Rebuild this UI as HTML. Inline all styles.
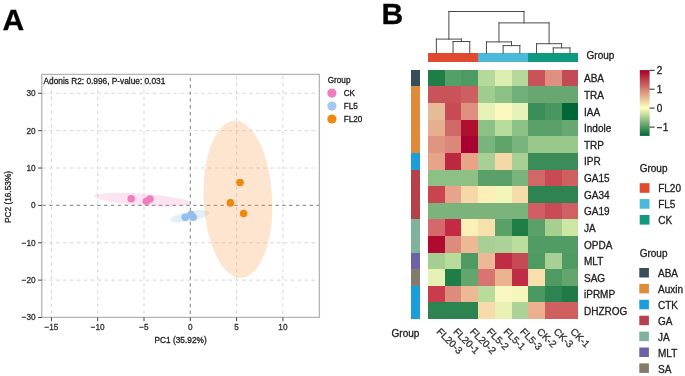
<!DOCTYPE html>
<html><head><meta charset="utf-8"><title>PCoA and heatmap</title>
<style>html,body{margin:0;padding:0;background:#fff;width:685px;height:376px;overflow:hidden;font-family:"Liberation Sans", sans-serif}
svg{display:block;font-family:"Liberation Sans", sans-serif;filter:blur(0.35px)}</style>
</head><body>
<svg width="685" height="376" viewBox="0 0 685 376" ><text x="2.6" y="30.4" font-size="30" font-weight="bold" fill="#000" stroke="#000" stroke-width="0.3">A</text>
<text x="381.6" y="24.4" font-size="30" font-weight="bold" fill="#000" stroke="#000" stroke-width="0.3">B</text>
<g stroke="#d2d2d2" stroke-width="0.9" stroke-dasharray="3.45 3.45"><line x1="51.40" y1="317.4" x2="51.40" y2="74.4" stroke-dashoffset="3.45"/><line x1="97.70" y1="317.4" x2="97.70" y2="74.4" stroke-dashoffset="3.45"/><line x1="144.00" y1="317.4" x2="144.00" y2="74.4" stroke-dashoffset="3.45"/><line x1="236.60" y1="317.4" x2="236.60" y2="74.4" stroke-dashoffset="3.45"/><line x1="282.90" y1="317.4" x2="282.90" y2="74.4" stroke-dashoffset="3.45"/><line x1="41.8" y1="93.29" x2="319.4" y2="93.29" stroke-dashoffset="-0.6"/><line x1="41.8" y1="130.66" x2="319.4" y2="130.66" stroke-dashoffset="-0.6"/><line x1="41.8" y1="168.03" x2="319.4" y2="168.03" stroke-dashoffset="-0.6"/><line x1="41.8" y1="242.77" x2="319.4" y2="242.77" stroke-dashoffset="-0.6"/><line x1="41.8" y1="280.14" x2="319.4" y2="280.14" stroke-dashoffset="-0.6"/></g>
<g stroke="#959595" stroke-width="1.2" stroke-dasharray="3.4 3.45"><line x1="190.30" y1="317.4" x2="190.30" y2="74.4" stroke-dashoffset="3.45"/><line x1="41.8" y1="205.40" x2="319.4" y2="205.40" stroke-dashoffset="-0.6"/></g>
<ellipse cx="142" cy="199.6" rx="48.4" ry="5.9" transform="rotate(4.15 142 199.6)" fill="#f07fbf" fill-opacity="0.22"/>
<ellipse cx="189.8" cy="216.2" rx="19.8" ry="4.9" transform="rotate(-11 189.8 216.2)" fill="#90bde9" fill-opacity="0.25"/>
<ellipse cx="237.9" cy="199.3" rx="34.3" ry="78.6" transform="rotate(-2.6 237.9 199.3)" fill="#f7a050" fill-opacity="0.27"/>
<circle cx="131.2" cy="198.7" r="3.8" fill="#ef7dbd"/>
<circle cx="146.4" cy="201.2" r="3.8" fill="#ef7dbd"/>
<circle cx="149.9" cy="199" r="3.8" fill="#ef7dbd"/>
<circle cx="185.3" cy="217.3" r="3.8" fill="#92bfea"/>
<circle cx="191" cy="214.6" r="3.8" fill="#92bfea"/>
<circle cx="193.2" cy="217.3" r="3.8" fill="#92bfea"/>
<circle cx="240" cy="182.5" r="3.8" fill="#ef880c"/>
<circle cx="230.4" cy="202.9" r="3.8" fill="#ef880c"/>
<circle cx="243.6" cy="213.6" r="3.8" fill="#ef880c"/>
<rect x="41.8" y="74.4" width="277.60" height="243.00" fill="none" stroke="#b4b4b4" stroke-width="1.3"/>
<g stroke="#444" stroke-width="1"><line x1="51.40" y1="317.4" x2="51.40" y2="321.2" /><line x1="97.70" y1="317.4" x2="97.70" y2="321.2" /><line x1="144.00" y1="317.4" x2="144.00" y2="321.2" /><line x1="190.30" y1="317.4" x2="190.30" y2="321.2" /><line x1="236.60" y1="317.4" x2="236.60" y2="321.2" /><line x1="282.90" y1="317.4" x2="282.90" y2="321.2" /><line x1="38.199999999999996" y1="93.29" x2="41.8" y2="93.29" /><line x1="38.199999999999996" y1="130.66" x2="41.8" y2="130.66" /><line x1="38.199999999999996" y1="168.03" x2="41.8" y2="168.03" /><line x1="38.199999999999996" y1="205.40" x2="41.8" y2="205.40" /><line x1="38.199999999999996" y1="242.77" x2="41.8" y2="242.77" /><line x1="38.199999999999996" y1="280.14" x2="41.8" y2="280.14" /><line x1="38.199999999999996" y1="317.51" x2="41.8" y2="317.51" /></g>
<text x="51.40" y="330.1" font-size="8.2" fill="#333" stroke="#333" stroke-width="0.3" text-anchor="middle">−15</text>
<text x="97.70" y="330.1" font-size="8.2" fill="#333" stroke="#333" stroke-width="0.3" text-anchor="middle">−10</text>
<text x="144.00" y="330.1" font-size="8.2" fill="#333" stroke="#333" stroke-width="0.3" text-anchor="middle">−5</text>
<text x="190.30" y="330.1" font-size="8.2" fill="#333" stroke="#333" stroke-width="0.3" text-anchor="middle">0</text>
<text x="236.60" y="330.1" font-size="8.2" fill="#333" stroke="#333" stroke-width="0.3" text-anchor="middle">5</text>
<text x="282.90" y="330.1" font-size="8.2" fill="#333" stroke="#333" stroke-width="0.3" text-anchor="middle">10</text>
<text x="35.6" y="96.24" font-size="8.2" fill="#333" stroke="#333" stroke-width="0.3" text-anchor="end">30</text>
<text x="35.6" y="133.61" font-size="8.2" fill="#333" stroke="#333" stroke-width="0.3" text-anchor="end">20</text>
<text x="35.6" y="170.98" font-size="8.2" fill="#333" stroke="#333" stroke-width="0.3" text-anchor="end">10</text>
<text x="35.6" y="208.35" font-size="8.2" fill="#333" stroke="#333" stroke-width="0.3" text-anchor="end">0</text>
<text x="35.6" y="245.72" font-size="8.2" fill="#333" stroke="#333" stroke-width="0.3" text-anchor="end">−10</text>
<text x="35.6" y="283.09" font-size="8.2" fill="#333" stroke="#333" stroke-width="0.3" text-anchor="end">−20</text>
<text x="35.6" y="320.46" font-size="8.2" fill="#333" stroke="#333" stroke-width="0.3" text-anchor="end">−30</text>
<text x="180.6" y="343" font-size="8.3" fill="#222" stroke="#222" stroke-width="0.3" text-anchor="middle">PC1 (35.92%)</text>
<text x="0" y="0" font-size="8.3" fill="#222" stroke="#222" stroke-width="0.3" text-anchor="middle" transform="translate(11.2 197) rotate(-90)">PC2 (16.53%)</text>
<text x="43.5" y="83.7" font-size="8.3" fill="#222" stroke="#222" stroke-width="0.3">Adonis R2: 0.996, P-value: 0.031</text>
<text x="327.7" y="82.9" font-size="8.2" fill="#222" stroke="#222" stroke-width="0.3">Group</text>
<circle cx="331.9" cy="93.10" r="4.6" fill="#ef7dbd"/>
<text x="343.7" y="96.30" font-size="8.2" fill="#222" stroke="#222" stroke-width="0.3">CK</text>
<circle cx="331.9" cy="106.05" r="4.6" fill="#a3c9ee"/>
<text x="343.7" y="109.25" font-size="8.2" fill="#222" stroke="#222" stroke-width="0.3">FL5</text>
<circle cx="331.9" cy="119.00" r="4.6" fill="#ef880c"/>
<text x="343.7" y="122.20" font-size="8.2" fill="#222" stroke="#222" stroke-width="0.3">FL20</text>
<g shape-rendering="crispEdges"><rect x="428.00" y="69.80" width="16.72" height="16.64" fill="#1f7d48"/><rect x="444.70" y="69.80" width="16.72" height="16.64" fill="#55a068"/><rect x="461.40" y="69.80" width="16.72" height="16.64" fill="#4d9a62"/><rect x="478.10" y="69.80" width="16.72" height="16.64" fill="#b5d99a"/><rect x="494.80" y="69.80" width="16.72" height="16.64" fill="#dcedb0"/><rect x="511.50" y="69.80" width="16.72" height="16.64" fill="#b5d99a"/><rect x="528.20" y="69.80" width="16.72" height="16.64" fill="#c85358"/><rect x="544.90" y="69.80" width="16.72" height="16.64" fill="#e09080"/><rect x="561.60" y="69.80" width="16.72" height="16.64" fill="#c44a55"/><rect x="428.00" y="86.42" width="16.72" height="16.64" fill="#c85358"/><rect x="444.70" y="86.42" width="16.72" height="16.64" fill="#c85358"/><rect x="461.40" y="86.42" width="16.72" height="16.64" fill="#cc6060"/><rect x="478.10" y="86.42" width="16.72" height="16.64" fill="#a0cc90"/><rect x="494.80" y="86.42" width="16.72" height="16.64" fill="#8cc084"/><rect x="511.50" y="86.42" width="16.72" height="16.64" fill="#70b078"/><rect x="528.20" y="86.42" width="16.72" height="16.64" fill="#68a870"/><rect x="544.90" y="86.42" width="16.72" height="16.64" fill="#68a870"/><rect x="561.60" y="86.42" width="16.72" height="16.64" fill="#68a870"/><rect x="428.00" y="103.04" width="16.72" height="16.64" fill="#e6bc98"/><rect x="444.70" y="103.04" width="16.72" height="16.64" fill="#c84a55"/><rect x="461.40" y="103.04" width="16.72" height="16.64" fill="#e09080"/><rect x="478.10" y="103.04" width="16.72" height="16.64" fill="#e6f2b8"/><rect x="494.80" y="103.04" width="16.72" height="16.64" fill="#fcf8c0"/><rect x="511.50" y="103.04" width="16.72" height="16.64" fill="#e6f2b8"/><rect x="528.20" y="103.04" width="16.72" height="16.64" fill="#3a8c58"/><rect x="544.90" y="103.04" width="16.72" height="16.64" fill="#4a9660"/><rect x="561.60" y="103.04" width="16.72" height="16.64" fill="#006837"/><rect x="428.00" y="119.66" width="16.72" height="16.64" fill="#e6b090"/><rect x="444.70" y="119.66" width="16.72" height="16.64" fill="#d06a68"/><rect x="461.40" y="119.66" width="16.72" height="16.64" fill="#b01030"/><rect x="478.10" y="119.66" width="16.72" height="16.64" fill="#8cc084"/><rect x="494.80" y="119.66" width="16.72" height="16.64" fill="#b8dc9c"/><rect x="511.50" y="119.66" width="16.72" height="16.64" fill="#8cc084"/><rect x="528.20" y="119.66" width="16.72" height="16.64" fill="#5aa068"/><rect x="544.90" y="119.66" width="16.72" height="16.64" fill="#5aa068"/><rect x="561.60" y="119.66" width="16.72" height="16.64" fill="#68a870"/><rect x="428.00" y="136.28" width="16.72" height="16.64" fill="#e09580"/><rect x="444.70" y="136.28" width="16.72" height="16.64" fill="#dc8878"/><rect x="461.40" y="136.28" width="16.72" height="16.64" fill="#a80030"/><rect x="478.10" y="136.28" width="16.72" height="16.64" fill="#78b47c"/><rect x="494.80" y="136.28" width="16.72" height="16.64" fill="#60a46c"/><rect x="511.50" y="136.28" width="16.72" height="16.64" fill="#78b47c"/><rect x="528.20" y="136.28" width="16.72" height="16.64" fill="#98c88a"/><rect x="544.90" y="136.28" width="16.72" height="16.64" fill="#98c88a"/><rect x="561.60" y="136.28" width="16.72" height="16.64" fill="#98c88a"/><rect x="428.00" y="152.90" width="16.72" height="16.64" fill="#e8a488"/><rect x="444.70" y="152.90" width="16.72" height="16.64" fill="#bc2840"/><rect x="461.40" y="152.90" width="16.72" height="16.64" fill="#e8a488"/><rect x="478.10" y="152.90" width="16.72" height="16.64" fill="#a8d094"/><rect x="494.80" y="152.90" width="16.72" height="16.64" fill="#f5d8a8"/><rect x="511.50" y="152.90" width="16.72" height="16.64" fill="#a8d094"/><rect x="528.20" y="152.90" width="16.72" height="16.64" fill="#3a8c58"/><rect x="544.90" y="152.90" width="16.72" height="16.64" fill="#3a8c58"/><rect x="561.60" y="152.90" width="16.72" height="16.64" fill="#3a8c58"/><rect x="428.00" y="169.52" width="16.72" height="16.64" fill="#8cc084"/><rect x="444.70" y="169.52" width="16.72" height="16.64" fill="#8cc084"/><rect x="461.40" y="169.52" width="16.72" height="16.64" fill="#8cc084"/><rect x="478.10" y="169.52" width="16.72" height="16.64" fill="#5aa068"/><rect x="494.80" y="169.52" width="16.72" height="16.64" fill="#5aa068"/><rect x="511.50" y="169.52" width="16.72" height="16.64" fill="#7ab47c"/><rect x="528.20" y="169.52" width="16.72" height="16.64" fill="#d06868"/><rect x="544.90" y="169.52" width="16.72" height="16.64" fill="#c84a55"/><rect x="561.60" y="169.52" width="16.72" height="16.64" fill="#d06060"/><rect x="428.00" y="186.14" width="16.72" height="16.64" fill="#c8444f"/><rect x="444.70" y="186.14" width="16.72" height="16.64" fill="#e8a48a"/><rect x="461.40" y="186.14" width="16.72" height="16.64" fill="#f6d8a8"/><rect x="478.10" y="186.14" width="16.72" height="16.64" fill="#fcf0b8"/><rect x="494.80" y="186.14" width="16.72" height="16.64" fill="#f2f6b8"/><rect x="511.50" y="186.14" width="16.72" height="16.64" fill="#f6dca8"/><rect x="528.20" y="186.14" width="16.72" height="16.64" fill="#2e8450"/><rect x="544.90" y="186.14" width="16.72" height="16.64" fill="#2e8450"/><rect x="561.60" y="186.14" width="16.72" height="16.64" fill="#2e8450"/><rect x="428.00" y="202.76" width="16.72" height="16.64" fill="#7ab47c"/><rect x="444.70" y="202.76" width="16.72" height="16.64" fill="#7ab47c"/><rect x="461.40" y="202.76" width="16.72" height="16.64" fill="#7ab47c"/><rect x="478.10" y="202.76" width="16.72" height="16.64" fill="#7ab47c"/><rect x="494.80" y="202.76" width="16.72" height="16.64" fill="#7ab47c"/><rect x="511.50" y="202.76" width="16.72" height="16.64" fill="#7ab47c"/><rect x="528.20" y="202.76" width="16.72" height="16.64" fill="#d05e62"/><rect x="544.90" y="202.76" width="16.72" height="16.64" fill="#c84c56"/><rect x="561.60" y="202.76" width="16.72" height="16.64" fill="#d06062"/><rect x="428.00" y="219.38" width="16.72" height="16.64" fill="#d4686a"/><rect x="444.70" y="219.38" width="16.72" height="16.64" fill="#c42a44"/><rect x="461.40" y="219.38" width="16.72" height="16.64" fill="#fcf0b8"/><rect x="478.10" y="219.38" width="16.72" height="16.64" fill="#f6e0ac"/><rect x="494.80" y="219.38" width="16.72" height="16.64" fill="#5aa068"/><rect x="511.50" y="219.38" width="16.72" height="16.64" fill="#1e7c44"/><rect x="528.20" y="219.38" width="16.72" height="16.64" fill="#5aa068"/><rect x="544.90" y="219.38" width="16.72" height="16.64" fill="#a6cf90"/><rect x="561.60" y="219.38" width="16.72" height="16.64" fill="#cce6a4"/><rect x="428.00" y="236.00" width="16.72" height="16.64" fill="#b00a30"/><rect x="444.70" y="236.00" width="16.72" height="16.64" fill="#dc8c7c"/><rect x="461.40" y="236.00" width="16.72" height="16.64" fill="#ecb896"/><rect x="478.10" y="236.00" width="16.72" height="16.64" fill="#a8d094"/><rect x="494.80" y="236.00" width="16.72" height="16.64" fill="#acd298"/><rect x="511.50" y="236.00" width="16.72" height="16.64" fill="#bcde9c"/><rect x="528.20" y="236.00" width="16.72" height="16.64" fill="#509c64"/><rect x="544.90" y="236.00" width="16.72" height="16.64" fill="#509c64"/><rect x="561.60" y="236.00" width="16.72" height="16.64" fill="#509c64"/><rect x="428.00" y="252.62" width="16.72" height="16.64" fill="#a4ce92"/><rect x="444.70" y="252.62" width="16.72" height="16.64" fill="#b8dc9c"/><rect x="461.40" y="252.62" width="16.72" height="16.64" fill="#4e9a62"/><rect x="478.10" y="252.62" width="16.72" height="16.64" fill="#ecb896"/><rect x="494.80" y="252.62" width="16.72" height="16.64" fill="#c02c44"/><rect x="511.50" y="252.62" width="16.72" height="16.64" fill="#c44a55"/><rect x="528.20" y="252.62" width="16.72" height="16.64" fill="#4e9a62"/><rect x="544.90" y="252.62" width="16.72" height="16.64" fill="#a8d094"/><rect x="561.60" y="252.62" width="16.72" height="16.64" fill="#4e9a62"/><rect x="428.00" y="269.24" width="16.72" height="16.64" fill="#e6f2b4"/><rect x="444.70" y="269.24" width="16.72" height="16.64" fill="#1f7d48"/><rect x="461.40" y="269.24" width="16.72" height="16.64" fill="#62a66e"/><rect x="478.10" y="269.24" width="16.72" height="16.64" fill="#d87470"/><rect x="494.80" y="269.24" width="16.72" height="16.64" fill="#ecb48e"/><rect x="511.50" y="269.24" width="16.72" height="16.64" fill="#c02c44"/><rect x="528.20" y="269.24" width="16.72" height="16.64" fill="#f8e0ac"/><rect x="544.90" y="269.24" width="16.72" height="16.64" fill="#4e9a62"/><rect x="561.60" y="269.24" width="16.72" height="16.64" fill="#62a66e"/><rect x="428.00" y="285.86" width="16.72" height="16.64" fill="#c83c4c"/><rect x="444.70" y="285.86" width="16.72" height="16.64" fill="#dc8c7c"/><rect x="461.40" y="285.86" width="16.72" height="16.64" fill="#ecb896"/><rect x="478.10" y="285.86" width="16.72" height="16.64" fill="#b8dc9c"/><rect x="494.80" y="285.86" width="16.72" height="16.64" fill="#f8f8c0"/><rect x="511.50" y="285.86" width="16.72" height="16.64" fill="#f6f6bc"/><rect x="528.20" y="285.86" width="16.72" height="16.64" fill="#4a9862"/><rect x="544.90" y="285.86" width="16.72" height="16.64" fill="#2e8450"/><rect x="561.60" y="285.86" width="16.72" height="16.64" fill="#1f7a46"/><rect x="428.00" y="302.48" width="16.72" height="16.64" fill="#2e8450"/><rect x="444.70" y="302.48" width="16.72" height="16.64" fill="#2e8450"/><rect x="461.40" y="302.48" width="16.72" height="16.64" fill="#2e8450"/><rect x="478.10" y="302.48" width="16.72" height="16.64" fill="#f6dcaa"/><rect x="494.80" y="302.48" width="16.72" height="16.64" fill="#e8f2b4"/><rect x="511.50" y="302.48" width="16.72" height="16.64" fill="#acd298"/><rect x="528.20" y="302.48" width="16.72" height="16.64" fill="#ecb090"/><rect x="544.90" y="302.48" width="16.72" height="16.64" fill="#d06060"/><rect x="561.60" y="302.48" width="16.72" height="16.64" fill="#d06060"/></g>
<rect x="411.3" y="69.80" width="8.4" height="16.62" fill="#374d58" shape-rendering="crispEdges"/>
<rect x="411.3" y="86.42" width="8.4" height="66.48" fill="#e08b3c" shape-rendering="crispEdges"/>
<rect x="411.3" y="152.90" width="8.4" height="16.62" fill="#1b9ed9" shape-rendering="crispEdges"/>
<rect x="411.3" y="169.52" width="8.4" height="49.86" fill="#b5424a" shape-rendering="crispEdges"/>
<rect x="411.3" y="219.38" width="8.4" height="33.24" fill="#7fb39b" shape-rendering="crispEdges"/>
<rect x="411.3" y="252.62" width="8.4" height="16.62" fill="#6d62a6" shape-rendering="crispEdges"/>
<rect x="411.3" y="269.24" width="8.4" height="16.62" fill="#857b6d" shape-rendering="crispEdges"/>
<rect x="411.3" y="285.86" width="8.4" height="33.24" fill="#1b9ed9" shape-rendering="crispEdges"/>
<rect x="428.00" y="53.3" width="50.10" height="8.2" fill="#e04a30" shape-rendering="crispEdges"/>
<rect x="478.10" y="53.3" width="50.10" height="8.2" fill="#4ab8d8" shape-rendering="crispEdges"/>
<rect x="528.20" y="53.3" width="50.10" height="8.2" fill="#0f9a80" shape-rendering="crispEdges"/>
<path d="M453.05 53.20L453.05 41.50 M469.75 53.20L469.75 41.50 M453.05 41.50L469.75 41.50 M436.35 53.20L436.35 39.10 M461.40 41.50L461.40 39.10 M436.35 39.10L461.40 39.10 M503.15 53.20L503.15 45.60 M519.85 53.20L519.85 45.60 M503.15 45.60L519.85 45.60 M486.45 53.20L486.45 41.90 M511.50 45.60L511.50 41.90 M486.45 41.90L511.50 41.90 M553.25 53.20L553.25 47.90 M569.95 53.20L569.95 47.90 M553.25 47.90L569.95 47.90 M536.55 53.20L536.55 43.70 M561.60 47.90L561.60 43.70 M536.55 43.70L561.60 43.70 M498.98 41.90L498.98 22.90 M549.08 43.70L549.08 22.90 M498.98 22.90L549.08 22.90 M448.88 39.10L448.88 11.50 M524.03 22.90L524.03 11.50 M448.88 11.50L524.03 11.50" stroke="#4a4a4a" stroke-width="1" fill="none" stroke-linecap="square"/>
<text x="584" y="82.31" font-size="10" fill="#222" stroke="#222" stroke-width="0.3">ABA</text>
<text x="584" y="98.93" font-size="10" fill="#222" stroke="#222" stroke-width="0.3">TRA</text>
<text x="584" y="115.55" font-size="10" fill="#222" stroke="#222" stroke-width="0.3">IAA</text>
<text x="584" y="132.17" font-size="10" fill="#222" stroke="#222" stroke-width="0.3">Indole</text>
<text x="584" y="148.79" font-size="10" fill="#222" stroke="#222" stroke-width="0.3">TRP</text>
<text x="584" y="165.41" font-size="10" fill="#222" stroke="#222" stroke-width="0.3">IPR</text>
<text x="584" y="182.03" font-size="10" fill="#222" stroke="#222" stroke-width="0.3">GA15</text>
<text x="584" y="198.65" font-size="10" fill="#222" stroke="#222" stroke-width="0.3">GA34</text>
<text x="584" y="215.27" font-size="10" fill="#222" stroke="#222" stroke-width="0.3">GA19</text>
<text x="584" y="231.89" font-size="10" fill="#222" stroke="#222" stroke-width="0.3">JA</text>
<text x="584" y="248.51" font-size="10" fill="#222" stroke="#222" stroke-width="0.3">OPDA</text>
<text x="584" y="265.13" font-size="10" fill="#222" stroke="#222" stroke-width="0.3">MLT</text>
<text x="584" y="281.75" font-size="10" fill="#222" stroke="#222" stroke-width="0.3">SAG</text>
<text x="584" y="298.37" font-size="10" fill="#222" stroke="#222" stroke-width="0.3">iPRMP</text>
<text x="584" y="314.99" font-size="10" fill="#222" stroke="#222" stroke-width="0.3">DHZROG</text>
<text x="586.6" y="58.7" font-size="10" fill="#222" stroke="#222" stroke-width="0.3">Group</text>
<text x="391.6" y="336.6" font-size="10" fill="#222" stroke="#222" stroke-width="0.3">Group</text>
<text x="0" y="0" font-size="10" fill="#333" stroke="#333" stroke-width="0.3" dominant-baseline="central" transform="translate(438.55 329.7) rotate(45)">FL20-3</text>
<text x="0" y="0" font-size="10" fill="#333" stroke="#333" stroke-width="0.3" dominant-baseline="central" transform="translate(455.25 329.7) rotate(45)">FL20-1</text>
<text x="0" y="0" font-size="10" fill="#333" stroke="#333" stroke-width="0.3" dominant-baseline="central" transform="translate(471.95 329.7) rotate(45)">FL20-2</text>
<text x="0" y="0" font-size="10" fill="#333" stroke="#333" stroke-width="0.3" dominant-baseline="central" transform="translate(488.65 329.7) rotate(45)">FL5-2</text>
<text x="0" y="0" font-size="10" fill="#333" stroke="#333" stroke-width="0.3" dominant-baseline="central" transform="translate(505.35 329.7) rotate(45)">FL5-1</text>
<text x="0" y="0" font-size="10" fill="#333" stroke="#333" stroke-width="0.3" dominant-baseline="central" transform="translate(522.05 329.7) rotate(45)">FL5-3</text>
<text x="0" y="0" font-size="10" fill="#333" stroke="#333" stroke-width="0.3" dominant-baseline="central" transform="translate(538.75 329.7) rotate(45)">CK-2</text>
<text x="0" y="0" font-size="10" fill="#333" stroke="#333" stroke-width="0.3" dominant-baseline="central" transform="translate(555.45 329.7) rotate(45)">CK-3</text>
<text x="0" y="0" font-size="10" fill="#333" stroke="#333" stroke-width="0.3" dominant-baseline="central" transform="translate(572.15 329.7) rotate(45)">CK-1</text>
<defs><linearGradient id="cb" x1="0" y1="1" x2="0" y2="0"><stop offset="0" stop-color="#006837"/><stop offset="0.4244" stop-color="#ffffbf"/><stop offset="1" stop-color="#a50026"/></linearGradient></defs>
<rect x="639.8" y="70.1" width="9.8" height="65.8" fill="url(#cb)"/>
<g stroke="#222" stroke-width="1"><line x1="649.6" y1="70.3" x2="654.6" y2="70.3"/><line x1="649.6" y1="89.2" x2="654.6" y2="89.2"/><line x1="649.6" y1="108.1" x2="654.6" y2="108.1"/><line x1="649.6" y1="127.1" x2="654.6" y2="127.1"/></g>
<text x="656.8" y="73.90" font-size="10" fill="#222" stroke="#222" stroke-width="0.3">2</text>
<text x="656.8" y="92.80" font-size="10" fill="#222" stroke="#222" stroke-width="0.3">1</text>
<text x="656.8" y="111.70" font-size="10" fill="#222" stroke="#222" stroke-width="0.3">0</text>
<text x="656.8" y="130.70" font-size="10" fill="#222" stroke="#222" stroke-width="0.3">−1</text>
<text x="639.7" y="171.8" font-size="10" fill="#222" stroke="#222" stroke-width="0.3">Group</text>
<rect x="639.7" y="183.20" width="9.8" height="9.6" fill="#e04a30"/>
<text x="658.2" y="192.40" font-size="10" fill="#222" stroke="#222" stroke-width="0.3">FL20</text>
<rect x="639.7" y="199.10" width="9.8" height="9.6" fill="#4ab8d8"/>
<text x="658.2" y="208.30" font-size="10" fill="#222" stroke="#222" stroke-width="0.3">FL5</text>
<rect x="639.7" y="215.00" width="9.8" height="9.6" fill="#0f9a80"/>
<text x="658.2" y="224.20" font-size="10" fill="#222" stroke="#222" stroke-width="0.3">CK</text>
<text x="639.7" y="256.8" font-size="10" fill="#222" stroke="#222" stroke-width="0.3">Group</text>
<rect x="639.3" y="268.00" width="9.6" height="9.5" fill="#374d58"/>
<text x="658" y="277.10" font-size="10" fill="#222" stroke="#222" stroke-width="0.3">ABA</text>
<rect x="639.3" y="283.90" width="9.6" height="9.5" fill="#e08b3c"/>
<text x="658" y="293.00" font-size="10" fill="#222" stroke="#222" stroke-width="0.3">Auxin</text>
<rect x="639.3" y="299.80" width="9.6" height="9.5" fill="#1b9ed9"/>
<text x="658" y="308.90" font-size="10" fill="#222" stroke="#222" stroke-width="0.3">CTK</text>
<rect x="639.3" y="315.70" width="9.6" height="9.5" fill="#b5424a"/>
<text x="658" y="324.80" font-size="10" fill="#222" stroke="#222" stroke-width="0.3">GA</text>
<rect x="639.3" y="331.60" width="9.6" height="9.5" fill="#7fb39b"/>
<text x="658" y="340.70" font-size="10" fill="#222" stroke="#222" stroke-width="0.3">JA</text>
<rect x="639.3" y="347.50" width="9.6" height="9.5" fill="#6d62a6"/>
<text x="658" y="356.60" font-size="10" fill="#222" stroke="#222" stroke-width="0.3">MLT</text>
<rect x="639.3" y="363.40" width="9.6" height="9.5" fill="#857b6d"/>
<text x="658" y="372.50" font-size="10" fill="#222" stroke="#222" stroke-width="0.3">SA</text></svg>
</body></html>
